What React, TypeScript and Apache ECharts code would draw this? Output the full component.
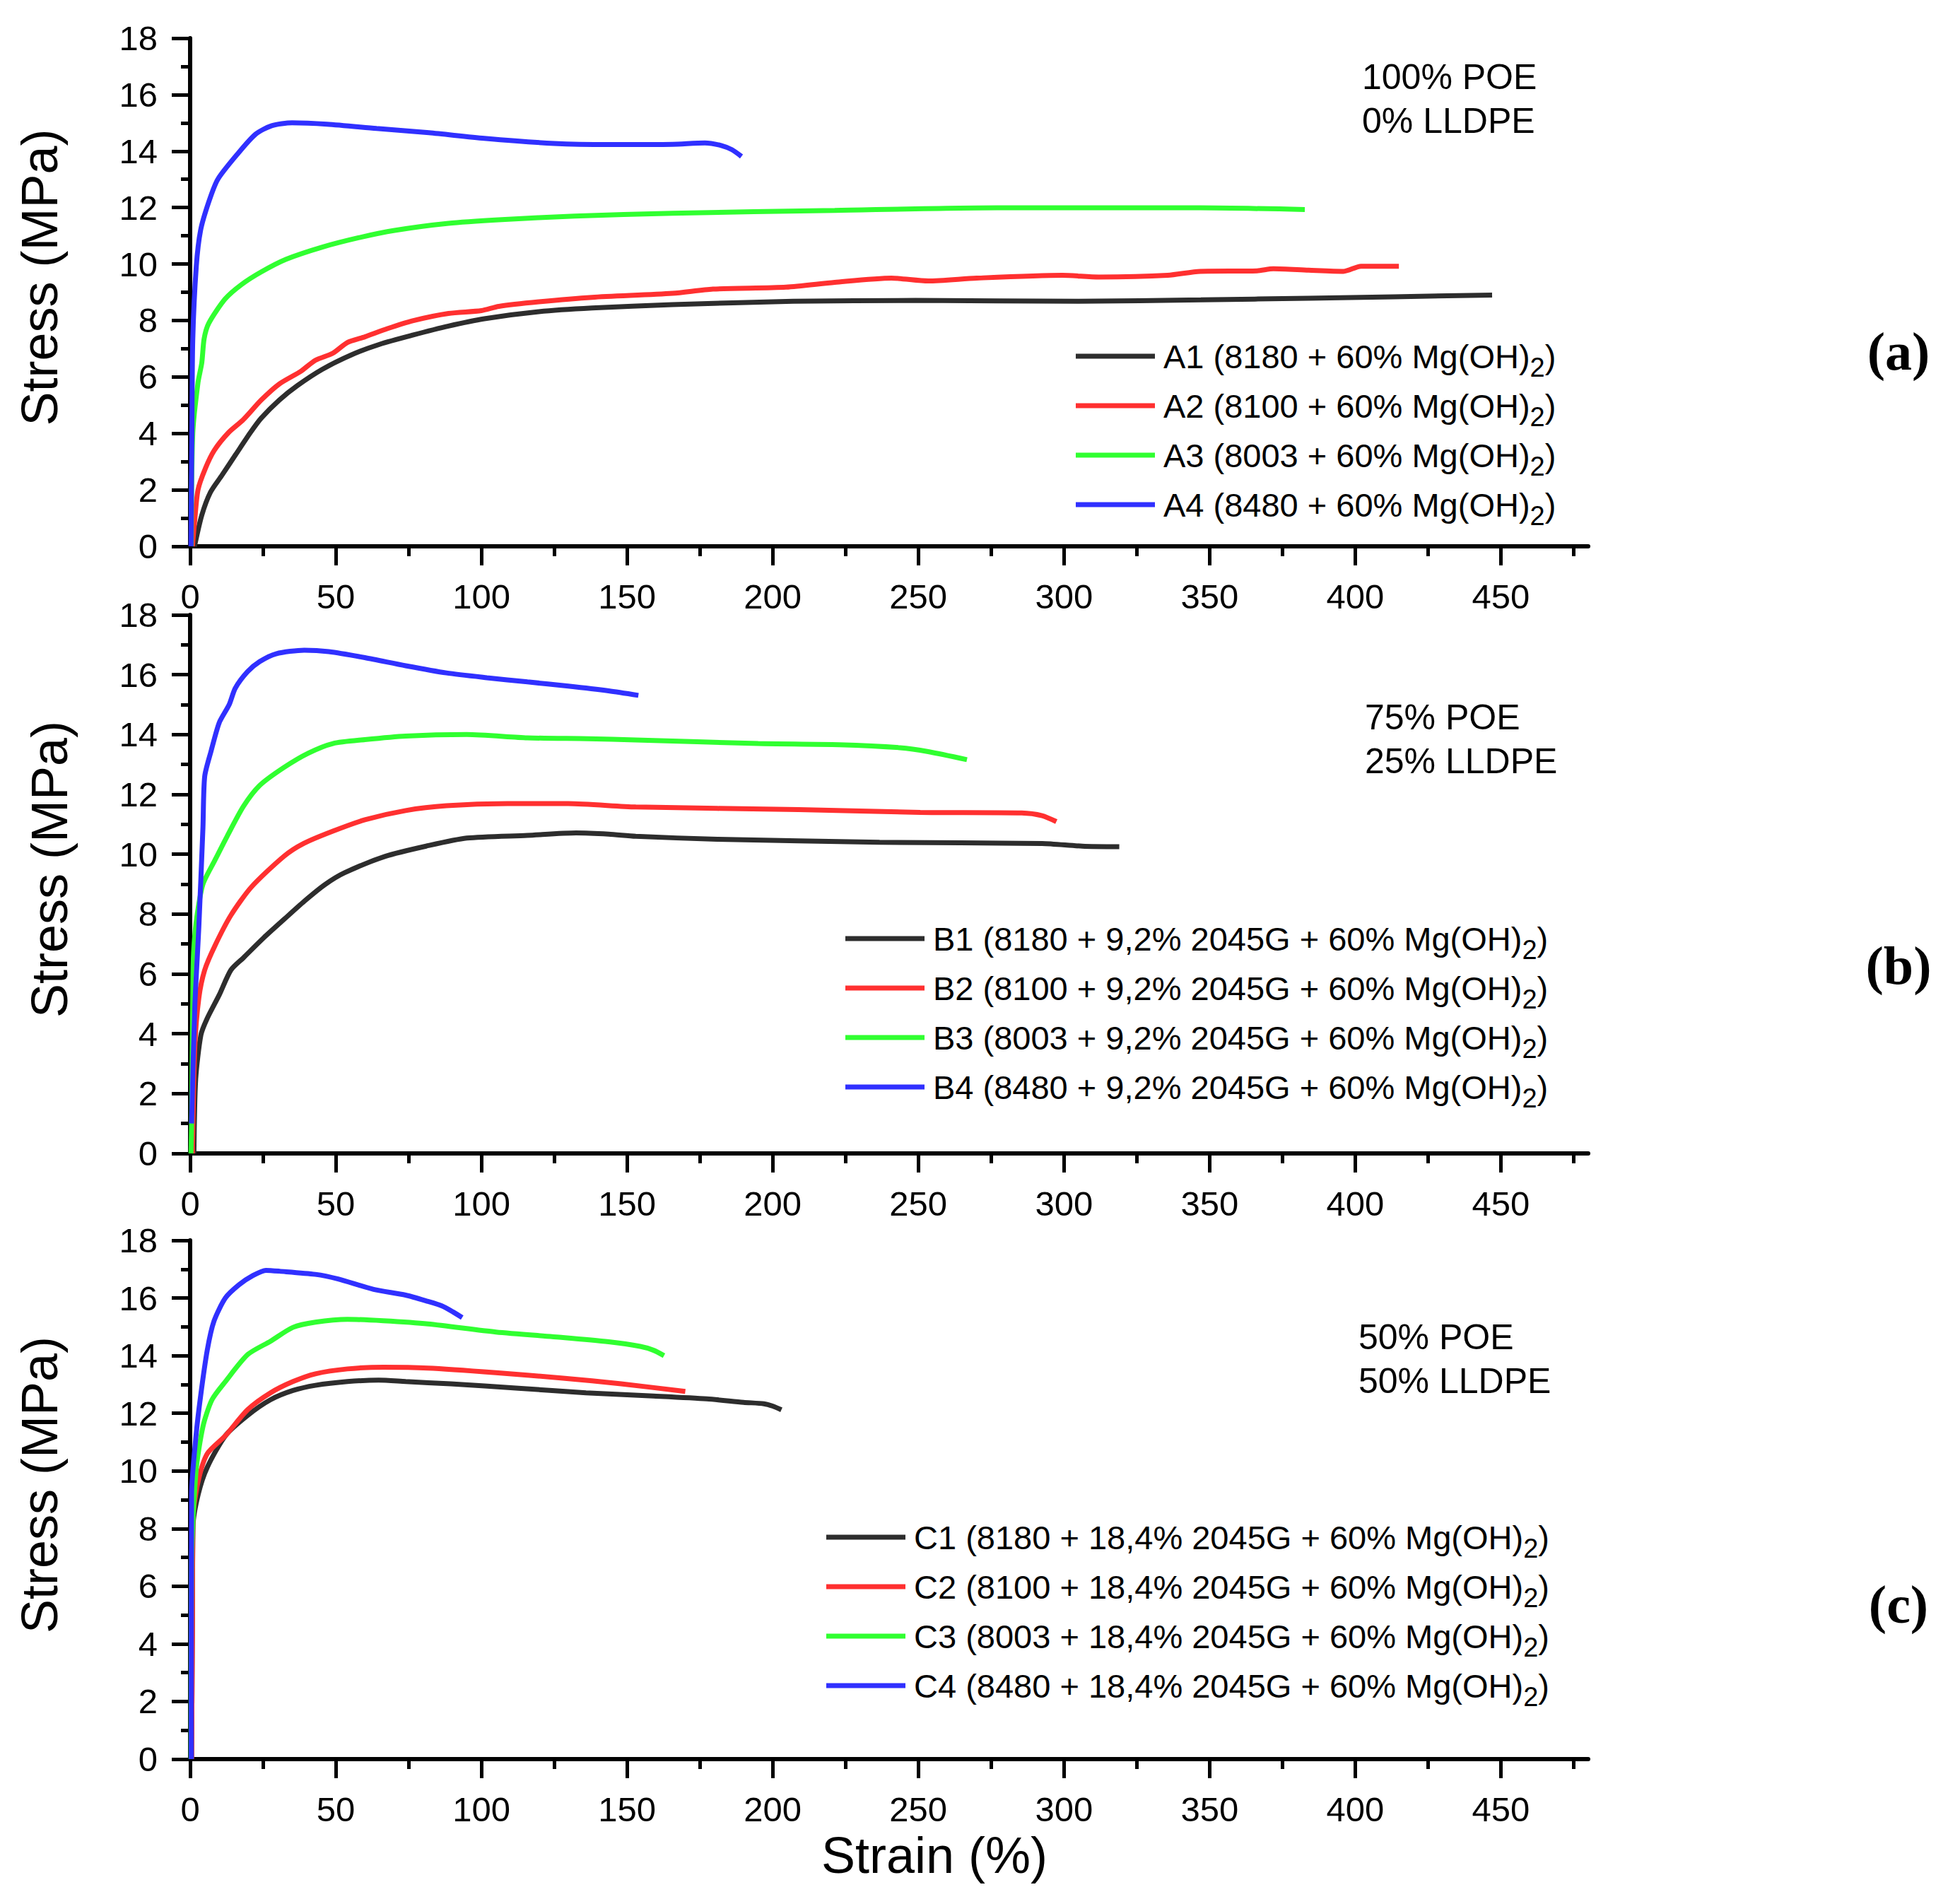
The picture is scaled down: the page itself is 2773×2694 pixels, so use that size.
import React, { useEffect, useRef } from 'react';
import * as echarts from 'echarts';

// strain (%), stress (MPa) pairs
const A1 = [[1.5, 0], [4, 1.1], [7, 1.92], [10.8, 2.5], [15.7, 3.26], [20.7, 4.03], [24.4, 4.54], [30.6, 5.18], [36.8, 5.69], [45.4, 6.27], [55.3, 6.78], [65.2, 7.16], [76.4, 7.48], [88.7, 7.8], [101, 8.06], [119.7, 8.31], [138, 8.44], [165.6, 8.56], [207, 8.68], [249, 8.71], [305, 8.68], [347, 8.73], [384, 8.79], [447, 8.9]];
const A2 = [[0.8, 0], [1.5, 0.83], [2.7, 2.0], [5.2, 2.75], [8.3, 3.4], [13.2, 4.03], [18.2, 4.48], [24.4, 5.18], [30.6, 5.75], [38, 6.2], [43, 6.59], [49, 6.84], [54, 7.22], [60, 7.42], [67.7, 7.71], [76.4, 7.99], [88.7, 8.25], [100, 8.35], [106, 8.5], [119.7, 8.66], [138, 8.82], [165.6, 8.96], [179.5, 9.11], [204.6, 9.18], [221.3, 9.35], [240.8, 9.5], [253.4, 9.4], [270, 9.5], [299.4, 9.6], [312, 9.54], [335.6, 9.6], [346.8, 9.74], [366.3, 9.76], [371.9, 9.83], [384, 9.78], [396, 9.74], [402, 9.92], [415, 9.92]];
const A3 = [[0.4, 0], [0.9, 4.0], [2.7, 5.8], [4, 6.5], [4.8, 7.35], [6.4, 7.9], [12, 8.76], [17.6, 9.27], [24.4, 9.72], [33, 10.17], [45.4, 10.6], [57.8, 10.93], [70.2, 11.19], [88.7, 11.44], [107, 11.57], [132, 11.7], [165.6, 11.8], [221.3, 11.9], [277, 11.99], [346.8, 11.99], [382.7, 11.93]];
const A4 = [[0.3, 0], [0.6, 4], [0.9, 7.3], [2.1, 9.9], [3.6, 11.2], [6.4, 12.2], [9.5, 13], [16.3, 13.9], [22.5, 14.6], [28, 14.9], [35, 15], [47, 14.95], [64, 14.8], [82, 14.65], [101, 14.45], [125, 14.27], [144, 14.23], [165.6, 14.24], [176.7, 14.29], [182.3, 14.2], [186, 14.05], [189.3, 13.81]];

const B1 = [[1.3, 0], [1.9, 2.47], [3.7, 3.96], [5.8, 4.5], [10, 5.3], [14, 6.13], [18.3, 6.54], [25.3, 7.21], [32.2, 7.82], [39.2, 8.43], [46.2, 8.98], [53, 9.38], [67, 9.93], [81, 10.27], [95, 10.54], [115.8, 10.63], [132.5, 10.71], [143.7, 10.67], [153, 10.6], [181, 10.5], [236.7, 10.4], [292.5, 10.36], [306.3, 10.27], [319, 10.25]];
const B2 = [[0.8, 0], [1.6, 3.55], [3, 5.2], [5, 6.13], [8.5, 6.94], [14, 7.96], [21, 8.9], [32.2, 9.93], [39, 10.36], [49, 10.77], [60, 11.15], [74, 11.46], [88, 11.62], [108.9, 11.69], [129.8, 11.69], [153, 11.58], [208.9, 11.49], [250.7, 11.4], [285.5, 11.38], [292.5, 11.29], [297.4, 11.09]];
const B3 = [[0.3, 0], [0.5, 1], [1, 6], [1.3, 6.9], [2.3, 7.9], [4.4, 9.0], [8.5, 9.8], [12.7, 10.6], [18.3, 11.6], [23.9, 12.3], [32.2, 12.9], [40.6, 13.38], [49, 13.7], [60, 13.83], [74, 13.95], [95, 14.0], [115.8, 13.89], [136.7, 13.86], [153, 13.82], [195, 13.7], [222.8, 13.66], [243.7, 13.56], [253.4, 13.43], [266.7, 13.16]];
const B4 = [[0.5, 1], [1.6, 4.9], [3, 7.6], [4.4, 10.9], [5, 12.6], [7.2, 13.45], [10, 14.4], [13.4, 15.0], [15.5, 15.55], [19.7, 16.1], [23.9, 16.44], [29.5, 16.7], [39.2, 16.82], [47.6, 16.77], [60, 16.57], [74, 16.3], [88, 16.06], [101.9, 15.9], [115.8, 15.76], [129.8, 15.62], [143.7, 15.46], [153.9, 15.31]];

const C1 = [[0.5, 0], [0.8, 5], [1, 8.1], [2.8, 9.2], [5.9, 10.13], [12.1, 11.22], [19.8, 11.93], [27.6, 12.47], [35.3, 12.79], [43, 12.97], [54, 13.1], [64.7, 13.15], [74, 13.1], [89.5, 13.02], [112.7, 12.87], [135.9, 12.71], [159, 12.6], [177.4, 12.5], [190, 12.38], [197, 12.33], [200, 12.25], [203, 12.12]];
const C2 = [[0.5, 0], [0.8, 5], [1, 8.4], [2.8, 9.66], [5.9, 10.6], [12.1, 11.22], [19.8, 12.13], [27.6, 12.71], [35.3, 13.1], [43, 13.37], [54, 13.54], [66.3, 13.6], [81.7, 13.57], [105, 13.41], [128, 13.22], [148, 13.02], [170, 12.76]];
const C3 = [[0.3, 0], [0.5, 6.85], [2, 9.97], [4.4, 11.54], [7.5, 12.47], [12.1, 13.1], [19.8, 14.04], [27.6, 14.5], [35.3, 14.98], [43, 15.16], [54, 15.26], [66.3, 15.21], [81.7, 15.1], [105, 14.82], [128, 14.63], [143.7, 14.48], [154.5, 14.32], [159, 14.19], [162.7, 14.0]];
const C4 = [[0.4, 0], [0.5, 9.2], [2, 11.2], [3.6, 12.6], [5.9, 14.2], [8.2, 15.2], [12.1, 16.0], [16.8, 16.46], [21.4, 16.77], [26, 16.96], [30.7, 16.93], [43, 16.82], [50.8, 16.66], [63, 16.3], [74, 16.1], [81.7, 15.88], [86.3, 15.73], [90.2, 15.52], [93.4, 15.32]];

const samples = ['8180', '8100', '8003', '8480'];
const namesA = samples.map((s, i) => `A${i + 1} (${s} + 60% Mg(OH)2)`);
const namesB = samples.map((s, i) => `B${i + 1} (${s} + 9,2% 2045G + 60% Mg(OH)2)`);
const namesC = samples.map((s, i) => `C${i + 1} (${s} + 18,4% 2045G + 60% Mg(OH)2)`);
const compositions = [['100% POE', '0% LLDPE'], ['75% POE', '25% LLDPE'], ['50% POE', '50% LLDPE']];
const panelTags = ['(a)', '(b)', '(c)'];
const xMajor = [0, 50, 100, 150, 200, 250, 300, 350, 400, 450];
const xMinor = [25, 75, 125, 175, 225, 275, 325, 375, 425, 475];

const colors = ['#2d2d2d', '#ff3030', '#30ff30', '#3030ff'];
const FONT = "'Liberation Sans', Arial, sans-serif";

const panels = [
    { top: 54, height: 719, data: [A1, A2, A3, A4], names: namesA, legendLeft: 1522, legendTop: 476, nameX: 56, noteX: 1927, noteY: 109, tagY: 497 },
    { top: 870, height: 762, data: [B1, B2, B3, B4], names: namesB, legendLeft: 1196, legendTop: 1300, nameX: 70, noteX: 1931, noteY: 1015, tagY: 1366 },
    { top: 1755, height: 734, data: [C1, C2, C3, C4], names: namesC, legendLeft: 1169, legendTop: 2147, nameX: 56, noteX: 1922, noteY: 1892, tagY: 2270 },
];

const txt = (text: string, x: number, y: number, size: number, align = 'left', extra: any = {}) => ({
    type: 'text',
    x,
    y,
    ...extra,
    style: {
        text,
        fontSize: size,
        fontFamily: FONT,
        fill: '#000',
        align,
        textAlign: align,
        verticalAlign: 'middle',
        textVerticalAlign: 'middle',
        ...(extra.style || {}),
    },
});

const buildOption = () => {
    const grid: any[] = [];
    const xAxis: any[] = [];
    const yAxis: any[] = [];
    const legend: any[] = [];
    const series: any[] = [];
    const graphic: any[] = [];

    panels.forEach((p, g) => {
        grid.push({ left: 269, top: p.top, width: 1978, height: p.height, outerBoundsMode: 'none' });
        xAxis.push({
            type: 'value', gridIndex: g, position: 'bottom', min: 0, max: 480, interval: 50,
            axisLine: { show: true, onZero: false, lineStyle: { color: '#000', width: 6 } },
            axisTick: { show: true, customValues: xMajor, length: 27, lineStyle: { color: '#000', width: 5 } },
            axisLabel: { customValues: xMajor, fontSize: 49, fontFamily: FONT, color: '#000', margin: 46 },
            splitLine: { show: false },
        });
        xAxis.push({
            type: 'value', gridIndex: g, position: 'bottom', min: 0, max: 480, interval: 50,
            axisLine: { show: false },
            axisTick: { show: true, customValues: xMinor, length: 14, lineStyle: { color: '#000', width: 5 } },
            axisLabel: { show: false },
            splitLine: { show: false },
        });
        yAxis.push({
            type: 'value', gridIndex: g, min: 0, max: 18, interval: 2,
            axisLine: { show: true, onZero: false, lineStyle: { color: '#000', width: 6 } },
            axisTick: { show: true, length: 26, lineStyle: { color: '#000', width: 5 } },
            minorTick: { show: true, splitNumber: 2, length: 13, lineStyle: { color: '#000', width: 5 } },
            axisLabel: { fontSize: 49, fontFamily: FONT, color: '#000', margin: 46 },
            splitLine: { show: false },
        });
        legend.push({
            orient: 'vertical', left: p.legendLeft, top: p.legendTop, padding: 0,
            itemWidth: 112, itemHeight: 7, itemGap: 7, icon: 'rect', selectedMode: false,
            data: p.names,
            formatter: (name: string) => '{g| }' + name.replace('(OH)2)', '(OH){s|2})'),
            textStyle: {
                fontSize: 47, fontFamily: FONT, color: '#000', lineHeight: 56,
                rich: {
                    g: { width: 7 },
                    s: { fontSize: 38, fontFamily: FONT, color: '#000', lineHeight: 14, verticalAlign: 'bottom', padding: [0, 0, -7, 0] },
                },
            },
        });
        p.data.forEach((d, i) => {
            series.push({
                type: 'line', name: p.names[i], data: d,
                xAxisIndex: 2 * g, yAxisIndex: g,
                showSymbol: false, symbol: 'none',
                smooth: 0.25,
                lineStyle: { color: colors[i], width: 7 },
                itemStyle: { color: colors[i] },
                z: 2 + i,
            });
        });
        graphic.push(txt('Stress (MPa)', p.nameX, p.top + p.height / 2 - 21, 72, 'center', { rotation: Math.PI / 2 }));
        graphic.push(txt(compositions[g][0], p.noteX, p.noteY, 50));
        graphic.push(txt(compositions[g][1], p.noteX, p.noteY + 62, 50));
        graphic.push(txt(panelTags[g], 2686, p.tagY, 76, 'center', {
            style: { fontFamily: "'Liberation Serif', 'DejaVu Serif', serif", fontWeight: 'bold' },
        }));
    });
    graphic.push(txt('Strain (%)', 1322, 2625, 72, 'center'));

    return { animation: false, backgroundColor: '#fff', grid, xAxis, yAxis, legend, series, graphic };
};

const App: React.FC = () => {
    const chartRef = useRef<HTMLDivElement>(null);

    useEffect(() => {
        if (!chartRef.current) return;
        const chart = echarts.init(chartRef.current, null, { renderer: 'svg' });
        chart.setOption(buildOption() as any);
        return () => {
            chart.dispose();
        };
    }, []);

    return (
        <div
            ref={chartRef}
            style={{ position: 'absolute', left: 0, top: 0, width: 2773, height: 2694, background: '#fff' }}
        />
    );
};

export default App;
